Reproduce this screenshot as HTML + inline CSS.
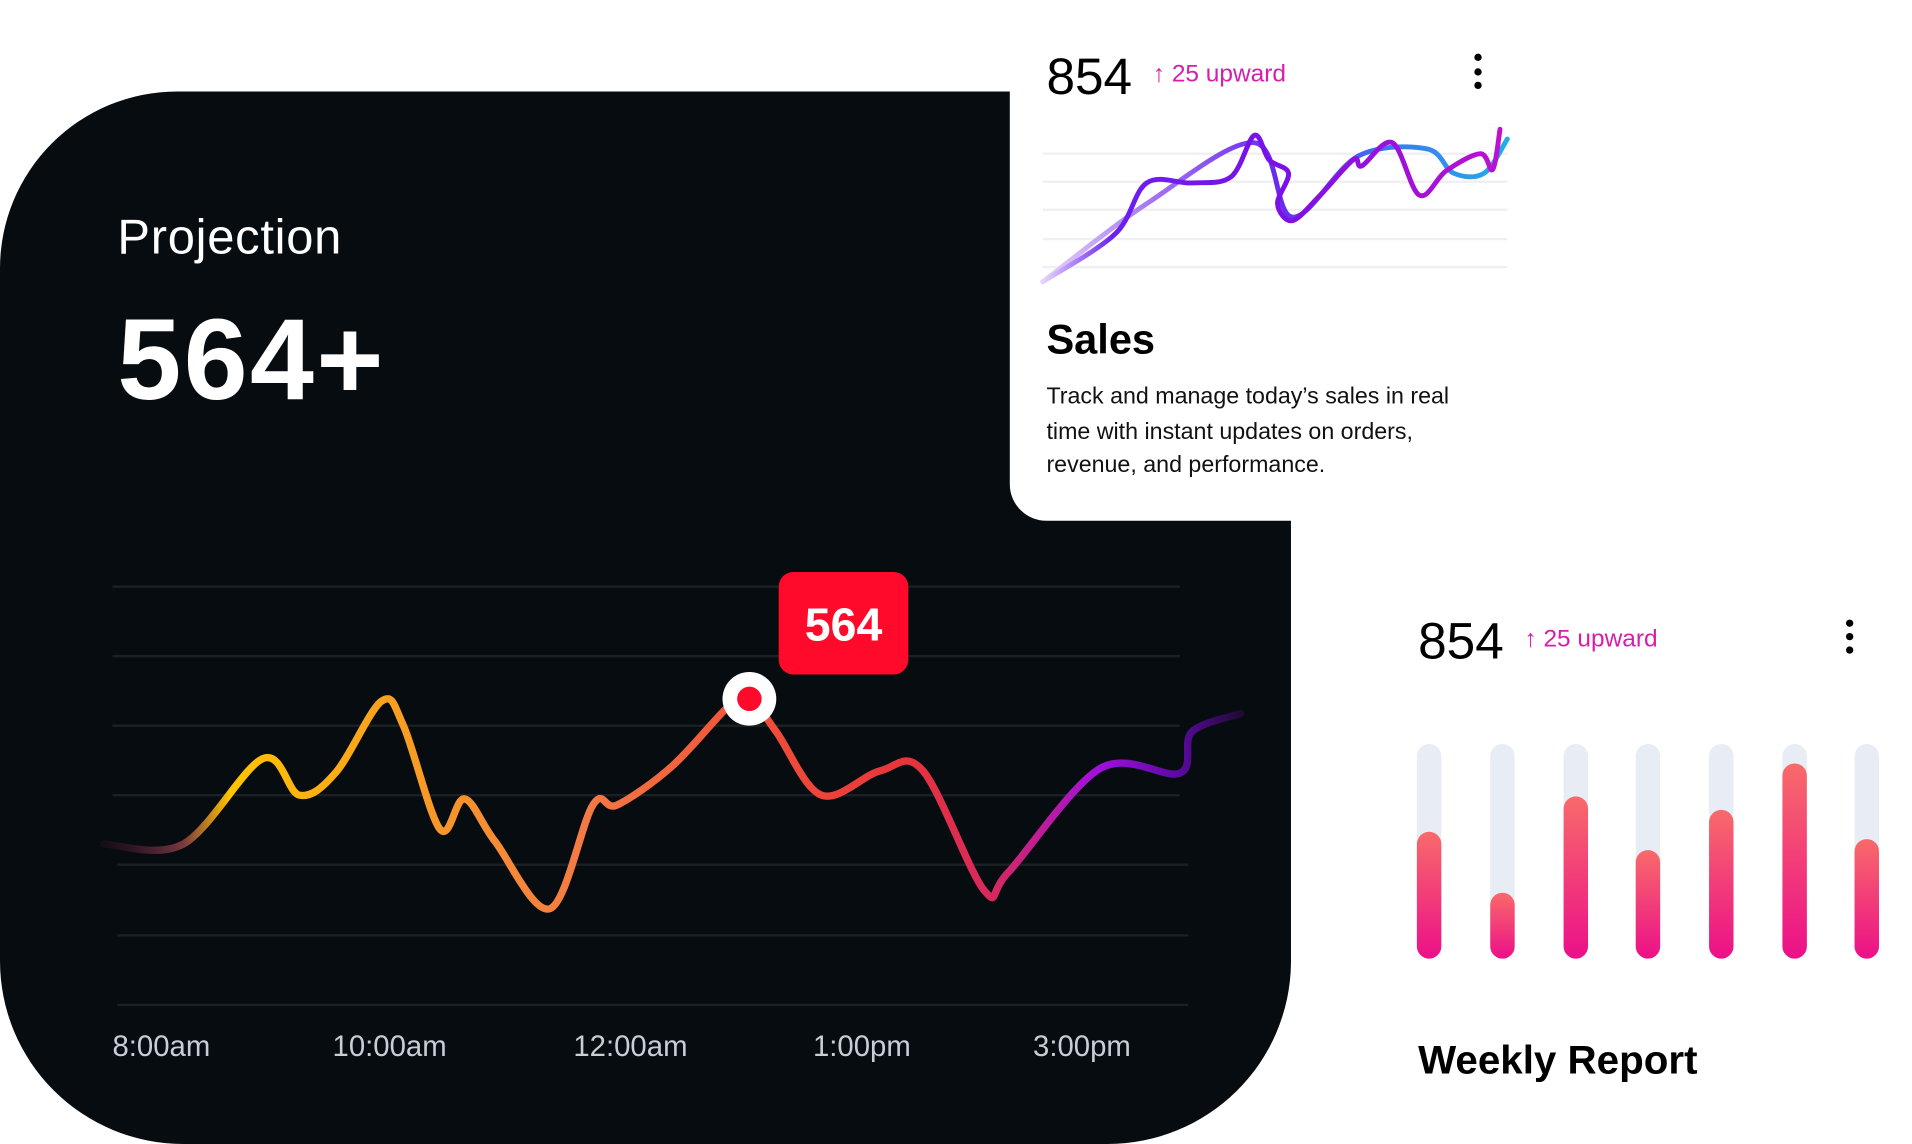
<!DOCTYPE html>
<html><head><meta charset="utf-8"><style>
html,body{margin:0;padding:0;background:#fff;width:1912px;height:1144px;overflow:hidden}
svg{display:block}
text{font-family:"Liberation Sans",sans-serif}
</style></head><body>
<svg id="s" width="1912" height="1144" viewBox="0 0 1564 938" preserveAspectRatio="none">
<defs>
<linearGradient id="gm" gradientUnits="userSpaceOnUse" x1="85" y1="0" x2="1020" y2="0">
<stop offset="0" stop-color="#3a1030" stop-opacity="0.3"/>
<stop offset="0.07" stop-color="#7a3a40"/>
<stop offset="0.11" stop-color="#ffc400"/>
<stop offset="0.25" stop-color="#f8a020"/>
<stop offset="0.42" stop-color="#f47a45"/>
<stop offset="0.55" stop-color="#f0553a"/>
<stop offset="0.70" stop-color="#e8343a"/>
<stop offset="0.78" stop-color="#d62860"/>
<stop offset="0.87" stop-color="#a10fe0"/>
<stop offset="0.94" stop-color="#5a0aa0"/>
<stop offset="1" stop-color="#1a0a2a"/>
</linearGradient>
<linearGradient id="ga" gradientUnits="userSpaceOnUse" x1="853" y1="0" x2="1235" y2="0">
<stop offset="0" stop-color="#e6d4fb"/>
<stop offset="0.25" stop-color="#a070f0"/>
<stop offset="0.5" stop-color="#6a2af0"/>
<stop offset="0.75" stop-color="#3a7af0"/>
<stop offset="1" stop-color="#20b0e8"/>
</linearGradient>
<linearGradient id="gb" gradientUnits="userSpaceOnUse" x1="853" y1="0" x2="1235" y2="0">
<stop offset="0" stop-color="#e6d4fb"/>
<stop offset="0.15" stop-color="#6a20f0"/>
<stop offset="0.5" stop-color="#7a10e8"/>
<stop offset="1" stop-color="#c010d0"/>
</linearGradient>
<linearGradient id="gbar" x1="0" y1="0" x2="0" y2="1">
<stop offset="0" stop-color="#f86a6a"/>
<stop offset="1" stop-color="#ec1088"/>
</linearGradient>
</defs>
<path d="M0,220 A145,145 0 0 1 145,75 L826,75 L826,397 A30,30 0 0 0 856,427 L1056,427 L1056,790 A150,150 0 0 1 906,938 L150,938 A150,150 0 0 1 0,788 Z" fill="#070c10"/>
<text x="96" y="208" font-size="40" fill="#fff" letter-spacing="0.6">Projection</text>
<text x="96" y="327" font-size="94" font-weight="bold" fill="#fff" letter-spacing="2">564+</text>
<g stroke="#1b2025" stroke-width="2">
<line x1="92" y1="481" x2="965" y2="481"/><line x1="92" y1="538" x2="965" y2="538"/>
<line x1="92" y1="595" x2="965" y2="595"/><line x1="92" y1="652" x2="965" y2="652"/>
<line x1="96" y1="709" x2="972" y2="709"/><line x1="96" y1="767" x2="972" y2="767"/>
<line x1="96" y1="824" x2="972" y2="824"/>
</g>
<g font-size="24" fill="#c8ced6">
<text x="92" y="866">8:00am</text><text x="272" y="866">10:00am</text>
<text x="469" y="866">12:00am</text><text x="665" y="866">1:00pm</text><text x="845" y="866">3:00pm</text>
</g>
<path id="main" fill="none" stroke="url(#gm)" stroke-width="6" stroke-linecap="round"/>
<rect x="637" y="469" width="106" height="84" rx="12" fill="#ff0a2a"/>
<text x="690" y="525" font-size="38" font-weight="bold" fill="#fff" text-anchor="middle">564</text>
<circle cx="613" cy="573" r="22" fill="#fff"/><circle cx="613" cy="573" r="10" fill="#ff0a2a"/>

<text x="856" y="77" font-size="42" fill="#000">854</text>
<text x="943" y="67" font-size="20" fill="#d61fa8">↑ 25 upward</text>
<g fill="#000"><circle cx="1209" cy="47" r="3"/><circle cx="1209" cy="59" r="3"/><circle cx="1209" cy="70" r="3"/></g>
<g stroke="#f0f0f2" stroke-width="2">
<line x1="853" y1="126" x2="1233" y2="126"/><line x1="853" y1="149" x2="1233" y2="149"/>
<line x1="853" y1="172" x2="1233" y2="172"/><line x1="853" y1="196" x2="1233" y2="196"/>
<line x1="853" y1="219" x2="1233" y2="219"/>
</g>
<path id="sa" fill="none" stroke="url(#ga)" stroke-width="4" stroke-linecap="round"/>
<path id="sb" fill="none" stroke="url(#gb)" stroke-width="4" stroke-linecap="round"/>
<text x="856" y="290" font-size="34" font-weight="bold" fill="#000">Sales</text>
<g font-size="19" fill="#111">
<text x="856" y="331">Track and manage today’s sales in real</text>
<text x="856" y="360">time with instant updates on orders,</text>
<text x="856" y="387">revenue, and performance.</text>
</g>

<text x="1160" y="540" font-size="42" fill="#000">854</text>
<text x="1247" y="530" font-size="20" fill="#d61fa8">↑ 25 upward</text>
<g fill="#000"><circle cx="1513" cy="511" r="3"/><circle cx="1513" cy="522" r="3"/><circle cx="1513" cy="533" r="3"/></g>
<g id="bars"></g>
<text x="1160" y="880" font-size="33" font-weight="bold" fill="#000">Weekly Report</text>
</svg>
<script>
function cr(p){var d="M"+p[0][0]+","+p[0][1];for(var i=0;i<p.length-1;i++){var a=p[i-1]||p[i],b=p[i],c=p[i+1],e=p[i+2]||c;
d+=" C"+(b[0]+(c[0]-a[0])/6)+","+(b[1]+(c[1]-a[1])/6)+" "+(c[0]-(e[0]-b[0])/6)+","+(c[1]-(e[1]-b[1])/6)+" "+c[0]+","+c[1];}return d;}
document.getElementById("main").setAttribute("d",cr([[85,692],[150,692],[215,622],[245,652],[275,633],[312,575],[330,595],[360,680],[380,655],[405,690],[450,745],[485,660],[505,660],[550,628],[597,578],[613,572],[635,600],[672,652],[720,632],[755,632],[805,730],[825,715],[900,630],[965,634],[975,600],[1015,585]]));
document.getElementById("sa").setAttribute("d",cr([[853,231],[938,167],[1026,117],[1057,178],[1111,128],[1167,122],[1189,142],[1214,142],[1233,114]]));
document.getElementById("sb").setAttribute("d",cr([[853,231],[912,192],[938,150],[975,150],[1007,145],[1026,111],[1038,131],[1054,142],[1045,167],[1057,181],[1079,161],[1107,131],[1114,136],[1139,117],[1161,160],[1183,140],[1211,126],[1221,139],[1227,106]]));
var xs=[1169,1229,1289,1348,1408,1468,1527],tops=[682,732,653,697,664,626,688],g="";
for(var i=0;i<7;i++){g+='<rect x="'+(xs[i]-10)+'" y="610" width="20" height="176" rx="10" fill="#e8ecf5"/>';
g+='<rect x="'+(xs[i]-10)+'" y="'+tops[i]+'" width="20" height="'+(786-tops[i])+'" rx="10" fill="url(#gbar)"/>';}
document.getElementById("bars").innerHTML=g;
</script>
</body></html>
